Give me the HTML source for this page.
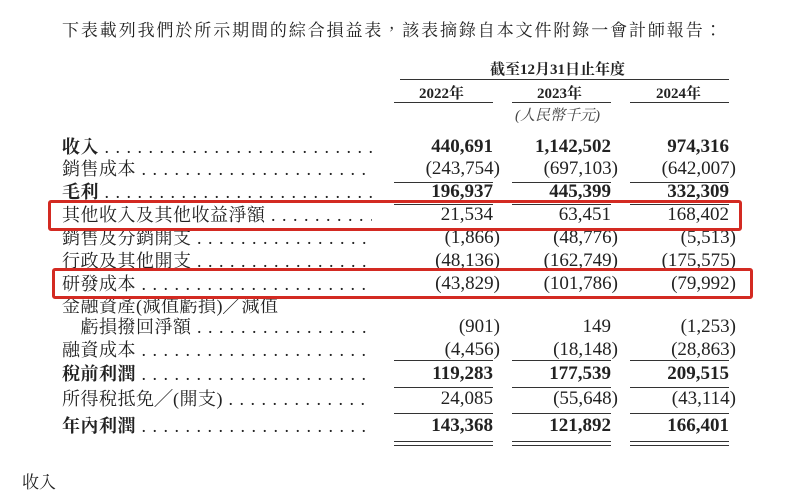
<!DOCTYPE html><html><head><meta charset="utf-8"><style>
body{margin:0;width:800px;height:500px;background:#fff;position:relative;overflow:hidden;font-family:"Liberation Serif","Noto Serif CJK TC","Noto Serif CJK SC",serif;color:#222}
.a{position:absolute;white-space:nowrap}
.l{position:absolute;left:62px;width:310px;overflow:hidden;white-space:nowrap;font-size:18px;line-height:20px;letter-spacing:0.5px}
.n{position:absolute;font-size:19px;line-height:20px;white-space:nowrap}
.b{font-weight:bold}
.h{position:absolute;height:1px;background:#333}
.box{position:absolute;border:3px solid #d32a22;border-radius:3px}
</style></head><body>
<div class="a" style="left:62px;top:16px;font-size:17px;letter-spacing:1.9px">下表載列我們於所示期間的綜合損益表，該表摘錄自本文件附錄一會計師報告：</div>
<div class="a b" style="left:490px;top:58px;font-size:15px">截至12月31日止年度</div>
<div class="h" style="left:400px;width:329px;top:79px"></div>
<div class="a b" style="left:419px;top:82px;font-size:15px">2022年</div>
<div class="a b" style="left:537px;top:82px;font-size:15px">2023年</div>
<div class="a b" style="left:656px;top:82px;font-size:15px">2024年</div>
<div class="h" style="left:394px;width:99px;top:102px"></div>
<div class="h" style="left:512px;width:99px;top:102px"></div>
<div class="h" style="left:630px;width:99px;top:102px"></div>
<div class="a" style="left:515px;top:104px;font-size:15px;font-style:italic;color:#444">(人民幣千元)</div>
<div id="rows"></div>
<script>
var R=[
["收入",147,1,["440,691","1,142,502","974,316"]],
["銷售成本",169,0,["(243,754)","(697,103)","(642,007)"]],
["毛利",192,1,["196,937","445,399","332,309"]],
["其他收入及其他收益淨額",215,0,["21,534","63,451","168,402"]],
["銷售及分銷開支",238,0,["(1,866)","(48,776)","(5,513)"]],
["行政及其他開支",261,0,["(48,136)","(162,749)","(175,575)"]],
["研發成本",284,0,["(43,829)","(101,786)","(79,992)"]],
["金融資產(減值虧損)╱減值",306,0,null],
["　虧損撥回淨額",327,0,["(901)","149","(1,253)"]],
["融資成本",350,0,["(4,456)","(18,148)","(28,863)"]],
["稅前利潤",374,1,["119,283","177,539","209,515"]],
["所得稅抵免╱(開支)",399,0,["24,085","(55,648)","(43,114)"]],
["年內利潤",426,1,["143,368","121,892","166,401"]]];
var X=[493,611,729],h="";
R.forEach(function(r){var t=r[1]-10,d=r[3]?new Array(40).join(" ."):"";
h+='<div class="l'+(r[2]?' b':'')+'" style="top:'+t+'px">'+r[0]+'<span style="font-weight:normal;letter-spacing:1px">'+d+'</span></div>';
if(r[3])r[3].forEach(function(v,i){var p=v.indexOf(")")>=0;h+='<div class="n'+(r[2]?' b':'')+'" style="top:'+t+'px;right:'+(800-X[i]-(p?7:0))+'px">'+v+'</div>';});});
[[182],[204],[360],[387],[413],[441],[445]].forEach(function(y){X.forEach(function(x){h+='<div class="h" style="left:'+(x-99)+'px;width:99px;top:'+y[0]+'px"></div>';});});
document.getElementById("rows").innerHTML=h;
</script>
<div class="box" style="left:48px;top:200px;width:688px;height:25px"></div>
<div class="box" style="left:52px;top:268px;width:695px;height:25px"></div>
<div class="a" style="left:22px;top:468px;font-size:17px">收入</div>
</body></html>
